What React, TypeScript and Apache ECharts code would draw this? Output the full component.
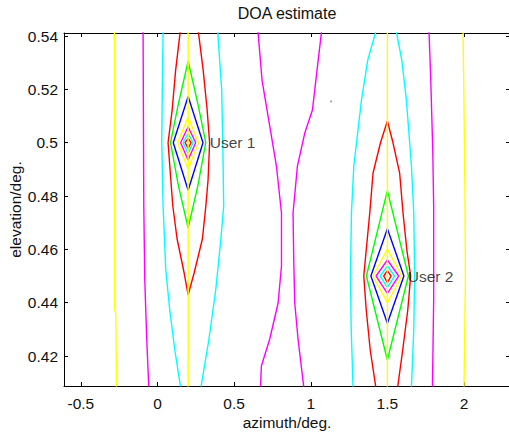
import React, { useEffect, useRef } from "react";
import * as echarts from "echarts";

const FONT = "'Liberation Sans', Arial, Helvetica, sans-serif";

const xTicks = [-0.5, 0, 0.5, 1, 1.5, 2];
const yTicks = [0.42, 0.44, 0.46, 0.48, 0.5, 0.52, 0.54];

// contour polylines, [azimuth, elevation]
const leftYellow = [[-0.2805, 0.5415], [-0.2805, 0.4375], [-0.272, 0.436], [-0.2675, 0.4085]];
const leftMagenta = [[-0.094, 0.5415], [-0.0894, 0.47625], [-0.083, 0.4485], [-0.07, 0.426], [-0.057, 0.4085]];
const u1CyanLeft = [[0.0365, 0.5415], [0.0313, 0.51975], [0.028, 0.5], [0.0365, 0.47625], [0.054, 0.45225], [0.08, 0.43725], [0.113, 0.42225], [0.15, 0.4085]];
const u1CyanRight = [[0.393, 0.5415], [0.419, 0.51975], [0.426, 0.5], [0.432, 0.47625], [0.413, 0.4635], [0.38, 0.44475], [0.335, 0.426], [0.284, 0.4085]];
const u1Red = [[0.148, 0.5415], [0.1185, 0.52725], [0.0957, 0.51225], [0.069, 0.5], [0.087, 0.486], [0.1, 0.47625], [0.128, 0.46388], [0.174, 0.45113], [0.2, 0.44288], [0.239, 0.45113], [0.293, 0.46388], [0.3155, 0.47625], [0.33, 0.486], [0.34, 0.5], [0.324, 0.51225], [0.298, 0.52725], [0.267, 0.5415]];
const u1Green = [[0.2, 0.5306], [0.138, 0.515], [0.085, 0.5], [0.136, 0.484], [0.2, 0.468], [0.264, 0.484], [0.315, 0.5], [0.262, 0.515], [0.2, 0.5306]];
const u1Blue = [[0.2, 0.5173], [0.297, 0.5], [0.2, 0.4822], [0.103, 0.5], [0.2, 0.5173]];
const u1Yellow = [[0.2, 0.5096], [0.2685, 0.5], [0.2, 0.4901], [0.1315, 0.5], [0.2, 0.5096]];
const u1Magenta = [[0.2, 0.506], [0.249, 0.5], [0.2, 0.4935], [0.151, 0.5], [0.2, 0.506]];
const u1Cyan = [[0.2, 0.5035], [0.2326, 0.5], [0.2, 0.496], [0.1674, 0.5], [0.2, 0.5035]];
const u1RedSmall = [[0.2, 0.5016], [0.2196, 0.5], [0.2, 0.4979], [0.1804, 0.5], [0.2, 0.5016]];
const u1Ridge = [[0.2, 0.5415], [0.2, 0.4085]];

const midMagentaLeft = [[0.656, 0.5415], [0.682, 0.5235], [0.7215, 0.51], [0.776, 0.49125], [0.809, 0.47363], [0.809, 0.45375], [0.787, 0.43988], [0.7325, 0.42638], [0.678, 0.41625], [0.672, 0.4085]];
const midMagentaRight = [[1.07, 0.5415], [1.044, 0.52875], [1.011, 0.51225], [0.961, 0.50363], [0.913, 0.49125], [0.8845, 0.47363], [0.889, 0.456], [0.8956, 0.43988], [0.917, 0.42638], [0.954, 0.4085]];

const u2CyanLeft = [[1.424, 0.5415], [1.372, 0.531], [1.331, 0.516], [1.281, 0.49125], [1.2655, 0.47363], [1.259, 0.45], [1.264, 0.42975], [1.276, 0.4085]];
const u2CyanRight = [[1.559, 0.5415], [1.594, 0.531], [1.624, 0.516], [1.657, 0.49125], [1.672, 0.47363], [1.678, 0.45], [1.672, 0.42975], [1.657, 0.4085]];
const u2Red = [[1.424, 0.4085], [1.388, 0.42225], [1.362, 0.43725], [1.346, 0.45], [1.362, 0.45975], [1.385, 0.47363], [1.4064, 0.48863], [1.4544, 0.49988], [1.5, 0.50813], [1.537, 0.49988], [1.58, 0.48863], [1.602, 0.47363], [1.627, 0.45975], [1.652, 0.45], [1.633, 0.43725], [1.6, 0.42225], [1.5675, 0.4085]];
const u2Green = [[1.5, 0.482], [1.637, 0.45], [1.5, 0.4185], [1.363, 0.45], [1.5, 0.482]];
const u2Blue = [[1.5, 0.4677], [1.6076, 0.45], [1.5, 0.4323], [1.3924, 0.45], [1.5, 0.4677]];
const u2Yellow = [[1.5, 0.46], [1.5946, 0.45], [1.5, 0.44], [1.4054, 0.45], [1.5, 0.46]];
const u2Magenta = [[1.5, 0.456], [1.5737, 0.45], [1.5, 0.4435], [1.4263, 0.45], [1.5, 0.456]];
const u2Cyan = [[1.5, 0.45375], [1.547, 0.45], [1.5, 0.44576], [1.453, 0.45], [1.5, 0.45375]];
const u2RedSmall = [[1.5, 0.452], [1.524, 0.45], [1.5, 0.4475], [1.476, 0.45], [1.5, 0.452]];
const u2Ridge = [[1.5, 0.5415], [1.5, 0.4085]];

const rightMagenta = [[1.7717, 0.5415], [1.783, 0.5235], [1.796, 0.49725], [1.802, 0.47625], [1.802, 0.441], [1.794, 0.4085]];
const rightYellow = [[1.9935, 0.5415], [1.998, 0.5235], [2.0065, 0.4785], [2.009, 0.4485], [2.0, 0.4085]];

const strayDot = [[1.1325, 0.5155]];

const userLabels = ["User 1", "User 2"];
const userLabelPos = [[0.341, 0.5], [1.633, 0.45]];

const C = {
  y: "#ffff00",
  m: "#ff00ff",
  c: "#00ffff",
  r: "#ff0000",
  g: "#00ff00",
  b: "#0000ff",
};

const contours: [number[][], string][] = [
  [leftYellow, C.y],
  [leftMagenta, C.m],
  [u1CyanLeft, C.c],
  [u1CyanRight, C.c],
  [u1Red, C.r],
  [u1Green, C.g],
  [u1Blue, C.b],
  [u1Yellow, C.y],
  [u1Magenta, C.m],
  [u1Cyan, C.c],
  [u1RedSmall, C.r],
  [midMagentaLeft, C.m],
  [midMagentaRight, C.m],
  [u2CyanLeft, C.c],
  [u2CyanRight, C.c],
  [u2Red, C.r],
  [u2Green, C.g],
  [u2Blue, C.b],
  [u2Yellow, C.y],
  [u2Magenta, C.m],
  [u2Cyan, C.c],
  [u2RedSmall, C.r],
  [rightMagenta, C.m],
  [rightYellow, C.y],
  [u1Ridge, C.y],
  [u2Ridge, C.y],
];

const X_MIN = -0.61;
const X_MAX = 2.3;
const Y_MIN = 0.40875;
const Y_MAX = 0.54115;

export default function App() {
  const ref = useRef<HTMLDivElement>(null);
  useEffect(() => {
    if (!ref.current) return;
    const chart = echarts.init(ref.current, undefined, { renderer: "svg" });
    const axisCommon = {
      type: "value" as const,
      axisLine: { show: true, onZero: false, lineStyle: { color: "#000", width: 1 } },
      splitLine: { show: false },
    };
    const labelStyle = { fontSize: 15.5, color: "#111", fontFamily: FONT };
    const series: any[] = contours.map(([pts, color]) => ({
      type: "line",
      data: pts,
      showSymbol: false,
      symbol: "none",
      silent: true,
      clip: true,
      lineStyle: { color, width: 1.4 },
      z: 2,
    }));
    series.push({
      type: "scatter",
      data: strayDot,
      symbolSize: 2,
      itemStyle: { color: "#888" },
      silent: true,
    });
    series.push({
      type: "scatter",
      data: userLabelPos.map((p, i) => ({ value: p, name: userLabels[i] })),
      symbolSize: 0,
      silent: true,
      label: {
        show: true,
        position: [0, 0],
        align: "left",
        verticalAlign: "middle",
        formatter: (p: any) => p.name,
        ...labelStyle,
      },
      z: 5,
    });
    chart.setOption({
      animation: false,
      backgroundColor: "#fff",
      grid: {
        left: 64,
        top: 33,
        width: 446,
        height: 353,
        containLabel: false,
        outerBoundsMode: "none",
      },
      graphic: [
        {
          type: "text",
          x: 287,
          y: 13,
          style: {
            text: "DOA estimate",
            fontSize: 16,
            fontFamily: FONT,
            fill: "#111",
            textAlign: "center",
            textVerticalAlign: "middle",
          },
        },
      ],
      xAxis: [
        {
          ...axisCommon,
          min: X_MIN,
          max: X_MAX,
          position: "bottom",
          axisTick: { show: true, inside: true, length: 4, customValues: xTicks, lineStyle: { color: "#000" } },
          axisLabel: { show: true, customValues: xTicks, margin: 9, ...labelStyle },
          name: "azimuth/deg.",
          nameLocation: "middle",
          nameGap: 28,
          nameMoveOverlap: false,
          nameTextStyle: { ...labelStyle },
        },
        {
          ...axisCommon,
          min: X_MIN,
          max: X_MAX,
          position: "top",
          axisTick: { show: true, inside: true, length: 4, customValues: xTicks, lineStyle: { color: "#000" } },
          axisLabel: { show: false },
        },
      ],
      yAxis: [
        {
          ...axisCommon,
          min: Y_MIN,
          max: Y_MAX,
          position: "left",
          axisTick: { show: true, inside: true, length: 4, customValues: yTicks, lineStyle: { color: "#000" } },
          axisLabel: { show: true, customValues: yTicks, margin: 6, ...labelStyle },
          name: "elevation/deg.",
          nameLocation: "middle",
          nameGap: 41,
          nameRotate: 90,
          nameMoveOverlap: false,
          nameTextStyle: { ...labelStyle },
        },
        {
          ...axisCommon,
          min: Y_MIN,
          max: Y_MAX,
          position: "right",
          axisTick: { show: true, inside: true, length: 4, customValues: yTicks, lineStyle: { color: "#000" } },
          axisLabel: { show: false },
        },
      ],
      series,
    });
    return () => chart.dispose();
  }, []);
  return (
    <div
      ref={ref}
      style={{ position: "fixed", left: 0, top: 0, width: 509, height: 432, background: "#fff" }}
    />
  );
}
